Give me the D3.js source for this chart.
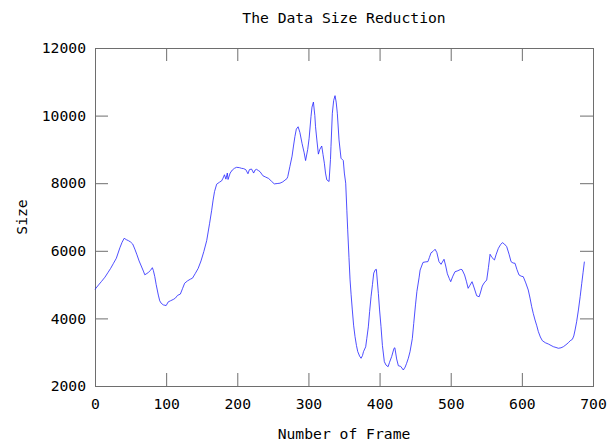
<!DOCTYPE html>
<html lang="en">
<meta charset="utf-8">
<head>
<script src="https://d3js.org/d3.v7.min.js"></script>
<style>
  body { margin: 0; background: #fff; }
  text { font-family: "DejaVu Sans Mono", monospace; }
</style>
</head>
<body>
<div id="chart"></div>
<script>

// frame numbers and data sizes
var frames = [0, 5, 9, 14, 18, 22, 26, 30, 35, 38, 41, 44, 47, 50, 53, 56, 59, 62, 65, 68,
  70, 73, 75, 78, 80.6, 82, 84, 86, 89, 91, 93, 96, 100, 103, 106, 110, 113, 116, 120, 123,
  126, 130, 134, 137, 141, 145, 149, 153, 157, 161, 164, 166, 168, 171, 175, 178, 180, 182, 184, 186,
  187, 190, 193, 196, 199, 203, 206, 209, 212, 215, 217, 220, 223, 225, 227, 230, 232, 236, 240, 244,
  248, 252, 256, 260, 264, 267, 270, 271, 274, 277, 279, 281, 283, 285.5, 288, 291, 294, 296, 299, 301,
  303.6, 305, 307, 309, 310, 312, 314, 316, 318.7, 320.5, 322.4, 324, 325.8, 329, 331, 331.7, 333.6, 335.5, 337.4, 339,
  340.6, 343, 345.8, 349, 350.5, 352.4, 354, 355.2, 357, 358.5, 360, 361.7, 363.5, 365.5, 367.5, 369.3, 372, 374, 376, 377.4,
  380.5, 382, 384.2, 386, 388, 390, 391.8, 394, 395.5, 398.3, 400, 402, 404, 406.7, 409, 412, 414, 417, 420.3, 421.5,
  424, 426.4, 429.7, 433.4, 436, 438, 440.4, 442.8, 446, 448, 450.5, 452.5, 455.5, 457, 461, 464, 468, 470, 472.3, 475,
  478, 480.5, 483.5, 486.4, 490.6, 493, 495.3, 498, 500, 503, 506, 510, 514, 516, 519.5, 522, 524.5, 527, 530, 533,
  536.5, 540, 542, 544.4, 547, 550.6, 553, 555.3, 558, 561.5, 564, 567, 570, 572.6, 575.5, 578.7, 582, 584.8, 587.5, 590.4,
  593, 596, 599, 602, 605.5, 609, 611.5, 613.8, 616, 618.5, 621, 623.2, 626, 628.8, 633, 637.2, 641, 644.3, 648, 651.3,
  655, 658.4, 662, 665.4, 668, 671, 673, 674.8, 677, 679.5, 682, 684.2, 686, 687.9];

var sizes = [4860, 4990, 5090, 5220, 5350, 5480, 5630, 5780, 6090, 6250, 6370, 6330, 6300, 6260, 6200, 6050, 5880, 5700, 5550, 5400,
  5290, 5330, 5360, 5420, 5500, 5420, 5240, 5000, 4690, 4520, 4450, 4400, 4380, 4490, 4520, 4560, 4600, 4680, 4720, 4880,
  5040, 5110, 5160, 5190, 5330, 5480, 5700, 5980, 6300, 6800, 7200, 7500, 7750, 7970, 8030, 8070, 8150, 8250, 8120, 8300,
  8110, 8300, 8390, 8440, 8470, 8460, 8440, 8430, 8400, 8280, 8400, 8420, 8300, 8390, 8410, 8370, 8340, 8220, 8180, 8140,
  8060, 7980, 7990, 8000, 8040, 8090, 8140, 8200, 8500, 8800, 9100, 9380, 9600, 9670, 9500, 9180, 8900, 8670, 9000, 9330,
  9970, 10250, 10400, 10000, 9670, 9250, 8860, 9000, 9100, 8850, 8590, 8300, 8100, 8050, 8700, 9080, 10070, 10450, 10590, 10400,
  10070, 9280, 8740, 8670, 8300, 8000, 7200, 6620, 5800, 5140, 4700, 4250, 3800, 3460, 3200, 3020, 2880, 2820, 2900, 3015,
  3160, 3400, 3750, 4200, 4640, 5000, 5340, 5440, 5450, 4740, 4250, 3760, 3200, 2720, 2620, 2570, 2700, 2870, 3116, 3130,
  2800, 2600, 2580, 2473, 2560, 2670, 2820, 3015, 3400, 3850, 4400, 4800, 5200, 5430, 5655, 5670, 5680, 5800, 5940, 5980,
  6045, 5950, 5680, 5600, 5750, 5550, 5320, 5180, 5086, 5250, 5380, 5410, 5450, 5440, 5285, 5100, 4890, 4980, 5086, 4900,
  4670, 4640, 4780, 4959, 5050, 5136, 5500, 5897, 5800, 5728, 5900, 6074, 6180, 6241, 6200, 6123, 5900, 5679, 5640, 5630,
  5450, 5285, 5250, 5234, 5050, 4841, 4600, 4347, 4150, 3953, 3780, 3607, 3450, 3341, 3280, 3243, 3200, 3163, 3140, 3116,
  3130, 3163, 3220, 3281, 3340, 3381, 3480, 3657, 3900, 4249, 4650, 5039, 5350, 5679];

var xTicks = [0, 100, 200, 300, 400, 500, 600, 700];
var yTicks = [2000, 4000, 6000, 8000, 10000, 12000];

var width = 608, height = 444;
var margin = {top: 48, right: 15, bottom: 58, left: 95};
var tickLen = 13;
var fontSize = "14.7px";
var frameColor = "#6e6e6e";

var svg = d3.select("#chart")
  .append("svg")
  .attr("width", width)
  .attr("height", height);

var x = d3.scaleLinear().domain([0, 700]).range([margin.left, width - margin.right]);
var y = d3.scaleLinear().domain([2000, 12000]).range([height - margin.bottom, margin.top]);

// title and axis labels
svg.append("text")
  .attr("x", (x(0) + x(700)) / 2)
  .attr("y", 23)
  .attr("text-anchor", "middle")
  .style("font-size", fontSize)
  .text("The Data Size Reduction");

svg.append("text")
  .attr("x", (x(0) + x(700)) / 2)
  .attr("y", 439)
  .attr("text-anchor", "middle")
  .style("font-size", fontSize)
  .text("Number of Frame");

svg.append("text")
  .attr("transform", "translate(27," + ((y(2000) + y(12000)) / 2) + ") rotate(-90)")
  .attr("text-anchor", "middle")
  .style("font-size", fontSize)
  .text("Size");

function styleAxis(g, labels) {
  g.select(".domain").remove();
  g.selectAll("line").attr("stroke", frameColor);
  g.selectAll("text").style("font-size", fontSize).attr("fill", "#000");
  if (!labels) g.selectAll("text").remove();
}

// bottom and left axes, ticks point inward
svg.append("g")
  .attr("transform", "translate(0," + y(2000) + ")")
  .call(d3.axisBottom(x).tickValues(xTicks).tickFormat(d3.format("d")).tickSize(-tickLen).tickPadding(0))
  .call(g => styleAxis(g, true))
  .selectAll("text")
    .attr("y", 23)
    .attr("dy", null);

svg.append("g")
  .attr("transform", "translate(" + x(0) + ",0)")
  .call(d3.axisLeft(y).tickValues(yTicks).tickFormat(d3.format("d")).tickSize(-tickLen).tickPadding(9))
  .call(g => styleAxis(g, true));

// mirrored ticks on top and right
svg.append("g")
  .attr("transform", "translate(0," + y(12000) + ")")
  .call(d3.axisTop(x).tickValues(xTicks).tickSize(-tickLen))
  .call(g => styleAxis(g, false));

svg.append("g")
  .attr("transform", "translate(" + x(700) + ",0)")
  .call(d3.axisRight(y).tickValues(yTicks).tickSize(-tickLen))
  .call(g => styleAxis(g, false));

// border
svg.append("rect")
  .attr("x", x(0) + 0.5)
  .attr("y", y(12000) + 0.5)
  .attr("width", x(700) - x(0))
  .attr("height", y(2000) - y(12000))
  .attr("fill", "none")
  .attr("stroke", frameColor)
  .attr("stroke-width", 1);

// data line
var pts = frames.map((f, i) => [f, sizes[i]]);
var line = d3.line()
  .x(d => x(d[0]))
  .y(d => y(d[1]));

svg.append("path")
  .datum(pts)
  .attr("d", line)
  .attr("fill", "none")
  .attr("stroke", "#2222ff")
  .attr("stroke-width", 0.8)
  .attr("stroke-linejoin", "round");

</script>
</body>
</html>
